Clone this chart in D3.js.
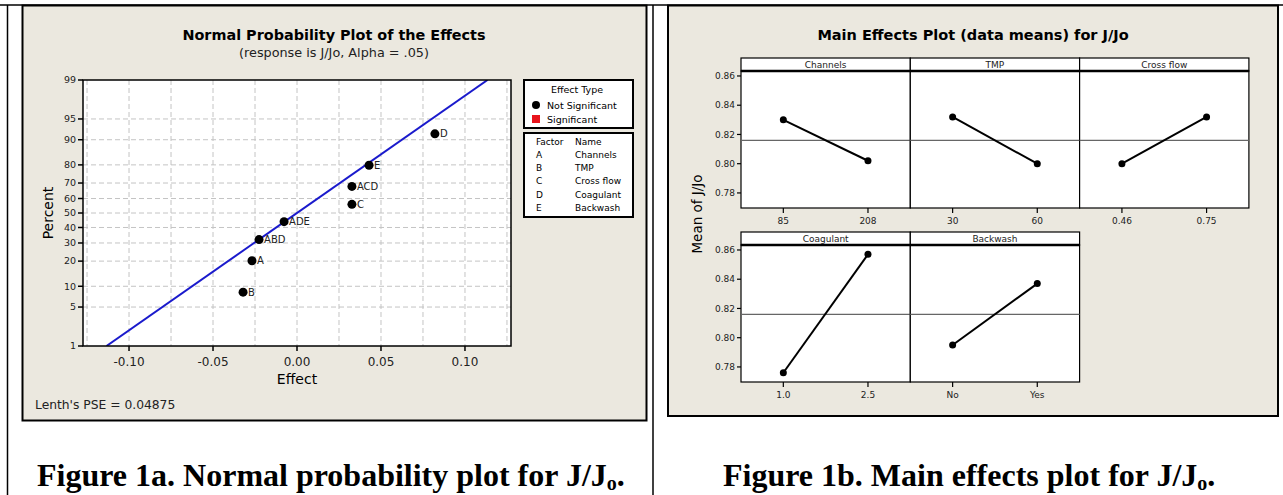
<!DOCTYPE html>
<html>
<head>
<meta charset="utf-8">
<script src="https://cdn.jsdelivr.net/npm/d3@7"></script>
<style>
  body { margin: 0; background: #fff; }
  svg { display: block; }
</style>
</head>
<body>
<script>
const W = 1283, H = 495;
const beige = '#ebe8df';

// normal probability plot data
const effectNames = ['B', 'A', 'ABD', 'ADE', 'C', 'ACD', 'E', 'D'];
const effectValues = [-0.0321, -0.0268, -0.0226, -0.0077, 0.0327, 0.0327, 0.0429, 0.0821];
const effectPercents = [8.3, 20.2, 32.1, 44.0, 56.0, 67.9, 79.8, 91.7];
const percentTicks = [1, 5, 10, 20, 30, 40, 50, 60, 70, 80, 90, 95, 99];
const effectTicks = [-0.10, -0.05, 0.00, 0.05, 0.10];
const lenthPSE = 0.04875;

// factors
const factorCodes = ['A', 'B', 'C', 'D', 'E'];
const factorNames = ['Channels', 'TMP', 'Cross flow', 'Coagulant', 'Backwash'];
const factorLevels = [['85', '208'], ['30', '60'], ['0.46', '0.75'], ['1.0', '2.5'], ['No', 'Yes']];
const factorMeans = [[0.830, 0.802], [0.832, 0.800], [0.800, 0.832], [0.776, 0.857], [0.795, 0.837]];
const grandMean = 0.816;
const meanTicks = [0.78, 0.80, 0.82, 0.84, 0.86];

const svg = d3.select('body').append('svg')
  .attr('width', W).attr('height', H)
  .style('font-family', 'DejaVu Sans, sans-serif');

// inverse normal cdf (Acklam)
function probit(p) {
  const a = [-39.69683028665376, 220.9460984245205, -275.9285104469687, 138.3577518672690, -30.66479806614716, 2.506628277459239];
  const b = [-54.47609879822406, 161.5858368580409, -155.6989798598866, 66.80131188771972, -13.28068155288572];
  const c = [-0.007784894002430293, -0.3223964580411365, -2.400758277161838, -2.549732539343734, 4.374664141464968, 2.938163982698783];
  const d = [0.007784695709041462, 0.3224671290700398, 2.445134137142996, 3.754408661907416];
  const pl = 0.02425;
  let q, r;
  if (p < pl) {
    q = Math.sqrt(-2 * Math.log(p));
    return (((((c[0]*q+c[1])*q+c[2])*q+c[3])*q+c[4])*q+c[5]) / ((((d[0]*q+d[1])*q+d[2])*q+d[3])*q+1);
  }
  if (p > 1 - pl) {
    q = Math.sqrt(-2 * Math.log(1 - p));
    return -(((((c[0]*q+c[1])*q+c[2])*q+c[3])*q+c[4])*q+c[5]) / ((((d[0]*q+d[1])*q+d[2])*q+d[3])*q+1);
  }
  q = p - 0.5; r = q * q;
  return (((((a[0]*r+a[1])*r+a[2])*r+a[3])*r+a[4])*r+a[5])*q / (((((b[0]*r+b[1])*r+b[2])*r+b[3])*r+b[4])*r+1);
}

// frame lines
svg.append('line').attr('x1', 0).attr('x2', W).attr('y1', 5).attr('y2', 5).attr('stroke', '#000').attr('stroke-width', 1.5);
svg.append('line').attr('x1', 7.5).attr('x2', 7.5).attr('y1', 5).attr('y2', H).attr('stroke', '#000').attr('stroke-width', 1.5);
svg.append('line').attr('x1', 653).attr('x2', 653).attr('y1', 5).attr('y2', H).attr('stroke', '#000').attr('stroke-width', 1.5);

// ---------- left panel ----------
const left = svg.append('g');
left.append('rect').attr('x', 22.5).attr('y', 5.5).attr('width', 624).attr('height', 415)
  .attr('fill', beige).attr('stroke', '#000').attr('stroke-width', 2);

left.append('text').attr('x', 334).attr('y', 40).attr('text-anchor', 'middle')
  .style('font-size', '14.4px').style('font-weight', 'bold').text('Normal Probability Plot of the Effects');
left.append('text').attr('x', 334).attr('y', 57).attr('text-anchor', 'middle')
  .style('font-size', '12.8px').attr('fill', '#222').text('(response is J/Jo, Alpha = .05)');

const px0 = 83, px1 = 511, py0 = 80, py1 = 346;
const zMax = probit(0.99);
const x = d3.scaleLinear().domain([-0.1274, 0.1274]).range([px0, px1]);
const yz = d3.scaleLinear().domain([-zMax, zMax]).range([py1, py0]);
const y = p => yz(probit(p / 100));

left.append('rect').attr('x', px0).attr('y', py0).attr('width', px1 - px0).attr('height', py1 - py0).attr('fill', '#fff');

left.append('g').selectAll('line')
  .data(d3.range(-5, 6).map(k => k * 0.025))
  .join('line')
    .attr('x1', d => x(d)).attr('x2', d => x(d)).attr('y1', py0).attr('y2', py1)
    .attr('stroke', '#c4c4c4').attr('stroke-dasharray', '5,3');
left.append('g').selectAll('line')
  .data(percentTicks.slice(1, -1))
  .join('line')
    .attr('x1', px0).attr('x2', px1).attr('y1', d => y(d)).attr('y2', d => y(d))
    .attr('stroke', '#c4c4c4').attr('stroke-dasharray', '5,3');

// fitted line: effect = PSE * z
const clip = left.append('clipPath').attr('id', 'pclip');
clip.append('rect').attr('x', px0).attr('y', py0).attr('width', px1 - px0).attr('height', py1 - py0);
left.append('line')
  .attr('clip-path', 'url(#pclip)')
  .attr('x1', x(-zMax * lenthPSE)).attr('y1', yz(-zMax))
  .attr('x2', x(zMax * lenthPSE)).attr('y2', yz(zMax))
  .attr('stroke', '#1a1acc').attr('stroke-width', 2);

left.append('rect').attr('x', px0).attr('y', py0).attr('width', px1 - px0).attr('height', py1 - py0)
  .attr('fill', 'none').attr('stroke', '#000').attr('stroke-width', 1.5);

// y ticks
const yt = left.append('g').selectAll('g').data(percentTicks).join('g')
  .attr('transform', d => `translate(0,${y(d)})`);
yt.append('line').attr('x1', px0 - 5).attr('x2', px0).attr('stroke', '#000').attr('stroke-width', 1.5);
yt.append('text').attr('x', px0 - 7).attr('dy', '0.35em').attr('text-anchor', 'end')
  .style('font-size', '9.5px').attr('fill', '#222').text(d => d);

// x ticks
const xt = left.append('g').selectAll('g').data(effectTicks).join('g')
  .attr('transform', d => `translate(${x(d)},${py1})`);
xt.append('line').attr('y1', 0).attr('y2', 5).attr('stroke', '#000').attr('stroke-width', 1.5);
xt.append('text').attr('y', 20).attr('text-anchor', 'middle')
  .style('font-size', '12px').attr('fill', '#222').text(d => d.toFixed(2));

left.append('text').attr('x', x(0)).attr('y', 384).attr('text-anchor', 'middle')
  .style('font-size', '14px').text('Effect');
left.append('text').attr('transform', `translate(53,${(py0 + py1) / 2}) rotate(-90)`).attr('text-anchor', 'middle')
  .style('font-size', '14px').text('Percent');
left.append('text').attr('x', 35).attr('y', 409).style('font-size', '12.3px').attr('fill', '#222')
  .text("Lenth's PSE = 0.04875");

// points
const pts = left.append('g').selectAll('g').data(effectNames).join('g')
  .attr('transform', (d, i) => `translate(${x(effectValues[i])},${y(effectPercents[i])})`);
pts.append('circle').attr('r', 4.5).attr('fill', '#000');
pts.append('text').attr('x', 5).attr('dy', '0.35em').style('font-size', '10px').attr('fill', '#222').text(d => d);

// legend: effect type
const lg = left.append('g');
lg.append('rect').attr('x', 524).attr('y', 80).attr('width', 109).attr('height', 48)
  .attr('fill', '#fff').attr('stroke', '#000').attr('stroke-width', 2);
lg.append('text').attr('x', 577).attr('y', 93).attr('text-anchor', 'middle').style('font-size', '9.5px').text('Effect Type');
lg.append('circle').attr('cx', 536).attr('cy', 105).attr('r', 4).attr('fill', '#000');
lg.append('text').attr('x', 547).attr('y', 108.5).style('font-size', '9.5px').text('Not Significant');
lg.append('rect').attr('x', 532).attr('y', 115).attr('width', 8).attr('height', 8).attr('fill', '#e8141c');
lg.append('text').attr('x', 547).attr('y', 122.5).style('font-size', '9.5px').text('Significant');

// legend: factor names
const lf = left.append('g');
lf.append('rect').attr('x', 524).attr('y', 133).attr('width', 109).attr('height', 84)
  .attr('fill', '#fff').attr('stroke', '#000').attr('stroke-width', 2);
lf.append('text').attr('x', 536).attr('y', 145).style('font-size', '9px').text('Factor');
lf.append('text').attr('x', 575).attr('y', 145).style('font-size', '9px').text('Name');
const rows = lf.selectAll('g.row').data(factorCodes).join('g').attr('class', 'row')
  .attr('transform', (d, i) => `translate(0,${158 + i * 13.2})`);
rows.append('text').attr('x', 536).style('font-size', '9px').text(d => d);
rows.append('text').attr('x', 575).style('font-size', '9px').text((d, i) => factorNames[i]);

// ---------- right panel ----------
const right = svg.append('g');
right.append('rect').attr('x', 668).attr('y', 5.5).attr('width', 610).attr('height', 410.5)
  .attr('fill', beige).attr('stroke', '#000').attr('stroke-width', 2);
right.append('text').attr('x', 973).attr('y', 40).attr('text-anchor', 'middle')
  .style('font-size', '14.5px').style('font-weight', 'bold').text('Main Effects Plot (data means) for J/Jo');

const gx0 = 741, colW = 169.3, stripH = 13, plotH = 137;
const rowTop = [71, 245];
const meanDomain = [0.7697, 0.8634];

factorNames.forEach((name, i) => {
  const col = i % 3, row = Math.floor(i / 3);
  const lx = gx0 + col * colW, top = rowTop[row], bot = top + plotH;
  const g = right.append('g');
  const ys = d3.scaleLinear().domain(meanDomain).range([bot, top]);
  const xs = d3.scalePoint().domain(factorLevels[i]).range([lx, lx + colW]).padding(0.5);

  // strip
  g.append('rect').attr('x', lx).attr('y', top - stripH).attr('width', colW).attr('height', stripH)
    .attr('fill', '#fff').attr('stroke', '#000').attr('stroke-width', 1.2);
  g.append('text').attr('x', lx + colW / 2).attr('y', top - 3).attr('text-anchor', 'middle')
    .style('font-size', '9px').attr('fill', '#222').text(name);
  // plot
  g.append('rect').attr('x', lx).attr('y', top).attr('width', colW).attr('height', plotH)
    .attr('fill', '#fff').attr('stroke', '#000').attr('stroke-width', 1.2);
  g.append('line').attr('x1', lx).attr('x2', lx + colW).attr('y1', top).attr('y2', top)
    .attr('stroke', '#000').attr('stroke-width', 2.5);
  g.append('line').attr('x1', lx).attr('x2', lx + colW).attr('y1', ys(grandMean)).attr('y2', ys(grandMean))
    .attr('stroke', '#666').attr('stroke-width', 1.2);

  const line = d3.line().x(d => xs(d[0])).y(d => ys(d[1]));
  const pairs = factorLevels[i].map((lv, j) => [lv, factorMeans[i][j]]);
  g.append('path').attr('d', line(pairs)).attr('fill', 'none').attr('stroke', '#000').attr('stroke-width', 2);
  g.selectAll('circle').data(pairs).join('circle')
    .attr('cx', d => xs(d[0])).attr('cy', d => ys(d[1])).attr('r', 3.5).attr('fill', '#000');

  // x ticks
  const tk = g.append('g').selectAll('g').data(factorLevels[i]).join('g')
    .attr('transform', d => `translate(${xs(d)},${bot})`);
  tk.append('line').attr('y2', 5).attr('stroke', '#000').attr('stroke-width', 1.2);
  tk.append('text').attr('y', 16).attr('text-anchor', 'middle').style('font-size', '9px').attr('fill', '#222').text(d => d);

  // y ticks on first column
  if (col === 0) {
    const ytk = g.append('g').selectAll('g').data(meanTicks).join('g')
      .attr('transform', d => `translate(${lx},${ys(d)})`);
    ytk.append('line').attr('x1', -4).attr('stroke', '#000').attr('stroke-width', 1.2);
    ytk.append('text').attr('x', -6).attr('dy', '0.35em').attr('text-anchor', 'end')
      .style('font-size', '9px').attr('fill', '#222').text(d => d.toFixed(2));
  }
});

right.append('text').attr('transform', `translate(702,214) rotate(-90)`).attr('text-anchor', 'middle')
  .style('font-size', '13.5px').text('Mean of J/Jo');

// ---------- captions ----------
function caption(xp, label) {
  const t = svg.append('text').attr('x', xp).attr('y', 486)
    .style('font-family', 'Liberation Serif, Times New Roman, serif')
    .style('font-weight', 'bold').style('font-size', '32px');
  t.append('tspan').text(label + ' J/J');
  t.append('tspan').attr('dy', 4).style('font-size', '20px').text('o');
  t.append('tspan').attr('dy', -4).text('.');
}
caption(37, 'Figure 1a. Normal probability plot for');
caption(723, 'Figure 1b. Main effects plot for');
</script>
</body>
</html>
